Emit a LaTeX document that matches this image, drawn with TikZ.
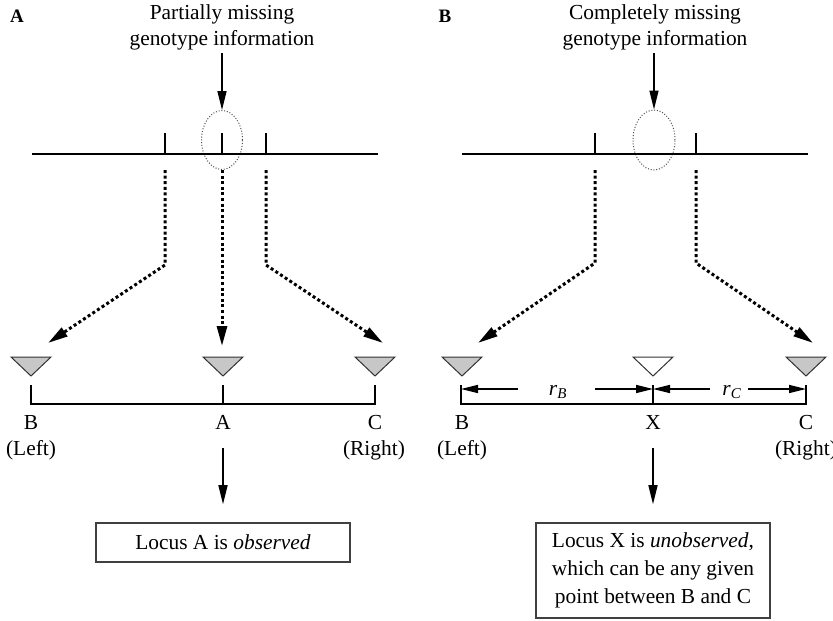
\documentclass[tikz,border=0pt]{standalone}
\usepackage{fontspec}
\setmainfont{Liberation Serif}
\usetikzlibrary{arrows.meta,shapes.geometric,calc}
\begin{document}
\begin{tikzpicture}[x=1pt,y=-1pt,
  lbl/.style={font=\fontsize{21.4}{25}\selectfont, inner sep=0pt},
  panel/.style={font=\bfseries\fontsize{19}{20}\selectfont, inner sep=0pt, anchor=base},
  axis/.style={line width=2.8pt},
  tickln/.style={line width=2.4pt},
  brk/.style={line width=2pt, line join=miter},
  arr/.style={line width=1.5pt, -{Triangle[length=19pt,width=9pt]}},
  sarr/.style={line width=1.5pt, -{Triangle[length=17pt,width=8pt]}},
  dotarr/.style={line width=3pt, dash pattern=on 3pt off 2.6pt, -{Triangle[length=20pt,width=10pt]}},
  ell/.style={draw=black!70, line width=1pt, dash pattern=on 1pt off 1.8pt, ellipse, minimum width=41pt, minimum height=59pt, inner sep=0pt},
  tri/.style={draw=black!80, line width=1pt, fill=black!22, line join=miter},
  wtri/.style={draw=black!80, line width=1pt, fill=white, line join=miter},
  box/.style={draw=black!75, line width=1.6pt, inner sep=0pt, align=center, font=\fontsize{21.4}{28}\selectfont}
]
\useasboundingbox (0,0) rectangle (833,621);

% ---------------- Panel A ----------------
\node[panel] (pA) at (17,22) {A};
\node[lbl, anchor=base, align=center] (tA) at (222,45) {Partially missing\\genotype information};
\node[ell] (eA) at (222,140) {};
\coordinate (tAs) at (222,53);
\draw[arr] (tAs) -- (eA.north);
\draw[axis] (32,154) -- (378,154);
\coordinate (kA1) at (165,154);
\coordinate (kA2) at (222,154);
\coordinate (kA3) at (266,154);
\draw[tickln] (kA1) -- ++(0,-21);
\draw[tickln] (kA2) -- ++(0,-21);
\draw[tickln] (kA3) -- ++(0,-21);
% triangles (tips)
\coordinate (trA1) at (31,376);
\coordinate (trA2) at (223,376);
\coordinate (trA3) at (375,376);
\draw[tri] (trA1) -- ++(-20,-19) -- ++(40,0) -- cycle;
\draw[tri] (trA2) -- ++(-20,-19) -- ++(40,0) -- cycle;
\draw[tri] (trA3) -- ++(-20,-19) -- ++(40,0) -- cycle;
% dotted connectors
\coordinate (dA1) at (165,265);
\coordinate (dA3) at (266,265);
\coordinate (hA1) at (48,343);
\coordinate (hA2) at (222,346);
\coordinate (hA3) at (383,343);
\draw[dotarr] ($(kA1)+(0,16)$) -- (dA1) -- (hA1);
\draw[dotarr] ($(kA2)+(0,16)$) -- (hA2);
\draw[dotarr] ($(kA3)+(0,16)$) -- (dA3) -- (hA3);
% bracket
\draw[brk] (31,385) -- (31,404) -- (375,404) -- (375,385);
\draw[brk] (223,404) -- (223,385);
\node[lbl, anchor=base] (lB) at (31,429) {B};
\node[lbl, anchor=base] (lA) at (223,429) {A};
\node[lbl, anchor=base] (lC) at (375,429) {C};
\node[lbl, anchor=base] (lLa) at (31,455) {(Left)};
\node[lbl, anchor=base] (lRa) at (374,455) {(Right)};
\node[box, minimum width=254pt, minimum height=39pt] (boxA) at (223,542.5) {Locus A is \textit{observed}};
\coordinate (aA) at (223,448);
\draw[arr, shorten >=18pt] (aA) -- (boxA.north);

% ---------------- Panel B ----------------
\node[panel] (pB) at (445,22) {B};
\node[lbl, anchor=base, align=center] (tB) at (655,45) {Completely missing\\genotype information};
\node[ell, minimum width=42pt, minimum height=60pt] (eB) at (654,140) {};
\coordinate (tBs) at (654,53);
\draw[arr] (tBs) -- (eB.north);
\draw[axis] (462,154) -- (808,154);
\coordinate (kB1) at (595,154);
\coordinate (kB3) at (696,154);
\draw[tickln] (kB1) -- ++(0,-21);
\draw[tickln] (kB3) -- ++(0,-21);
\coordinate (trB1) at (462,376);
\coordinate (trB2) at (653,376);
\coordinate (trB3) at (806,376);
\draw[tri] (trB1) -- ++(-20,-19) -- ++(40,0) -- cycle;
\draw[wtri] (trB2) -- ++(-20,-19) -- ++(40,0) -- cycle;
\draw[tri] (trB3) -- ++(-20,-19) -- ++(40,0) -- cycle;
\coordinate (dB1) at (595,263);
\coordinate (dB3) at (696,263);
\coordinate (hB1) at (478,343);
\coordinate (hB3) at (813,343);
\draw[dotarr] ($(kB1)+(0,16)$) -- (dB1) -- (hB1);
\draw[dotarr] ($(kB3)+(0,16)$) -- (dB3) -- (hB3);
\draw[brk] (461,385) -- (461,404) -- (806,404) -- (806,385);
\draw[brk] (653,404) -- (653,385);
% distances
\node[lbl] (rB) at (558,392) {\textit{r}\textsubscript{\textit{B}}};
\node[lbl] (rC) at (732,392) {\textit{r}\textsubscript{\textit{C}}};
\coordinate (bL) at (461,389);
\coordinate (bM) at (653,389);
\coordinate (bR) at (806,389);
\draw[sarr] (518,389) -- (bL);
\draw[sarr] (595,389) -- (bM);
\draw[sarr] (710,389) -- (bM);
\draw[sarr] (748,389) -- (bR);
\node[lbl, anchor=base] (lB2) at (462,429) {B};
\node[lbl, anchor=base] (lX) at (653,429) {X};
\node[lbl, anchor=base] (lC2) at (806,429) {C};
\node[lbl, anchor=base] (lLb) at (462,455) {(Left)};
\node[lbl, anchor=base] (lRb) at (806,455) {(Right)};
\node[box, minimum width=234pt, minimum height=95pt] (boxB) at (653,570.5) {Locus X is \textit{unobserved},\\which can be any given\\point between B and C};
\coordinate (aB) at (653,448);
\draw[arr, shorten >=18pt] (aB) -- (boxB.north);
\end{tikzpicture}
\end{document}
